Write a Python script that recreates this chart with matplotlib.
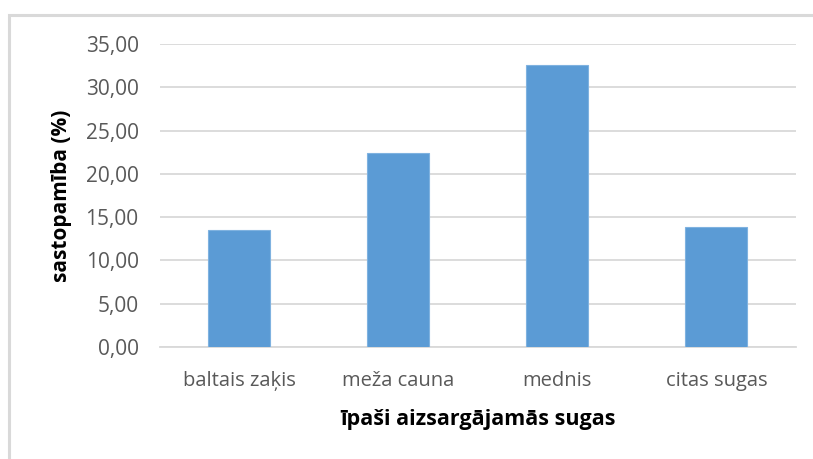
import matplotlib.pyplot as plt
from matplotlib.patches import Rectangle
from matplotlib.ticker import FuncFormatter

categories = ['baltais zaķis', 'meža cauna', 'mednis', 'citas sugas']
values = [13.57, 22.46, 32.56, 13.86]
yticks = [0, 5, 10, 15, 20, 25, 30, 35]

plt.rcParams['font.family'] = ['Open Sans', 'DejaVu Sans']

fig = plt.figure(figsize=(8.13, 4.59), dpi=100)
ax = fig.add_axes([159.5 / 813, 1 - 347 / 459, (796 - 159.5) / 813, (347 - 44) / 459])

# outer chart border (cropped on the right and bottom)
fig.patches.append(Rectangle((9 / 813, -0.1), 1.2, 1.1 - 15 / 459, transform=fig.transFigure,
                             fill=False, edgecolor='#d9d9d9', linewidth=2.2))

x = range(len(categories))
ax.bar(x, values, width=0.39, color='#5b9bd5', edgecolor='#7fb2e0', linewidth=0.8, zorder=3)

ax.set_xlim(-0.5, len(categories) - 0.5)
ax.set_ylim(0, 35)
ax.set_yticks(yticks)
ax.yaxis.set_major_formatter(FuncFormatter(lambda v, p: f'{v:.2f}'.replace('.', ',')))
ax.set_xticks(list(x))
ax.set_xticklabels(categories)

ax.grid(axis='y', color='#d9d9d9', linewidth=1.3, zorder=0)
for s in ['top', 'right', 'left']:
    ax.spines[s].set_visible(False)
ax.spines['bottom'].set_color('#d9d9d9')
ax.spines['bottom'].set_linewidth(1.3)
ax.tick_params(axis='both', length=0, labelcolor='#595959')
ax.tick_params(axis='y', pad=15, labelsize=15)
ax.tick_params(axis='x', pad=17, labelsize=14.5)

ax.set_ylabel('sastopamība (%)', fontsize=15, fontweight='bold', color='black', labelpad=10)
ax.set_xlabel('īpaši aizsargājamās sugas', fontsize=15.5, fontweight='bold', color='black', labelpad=13)

fig.savefig('out.png', dpi=100)
